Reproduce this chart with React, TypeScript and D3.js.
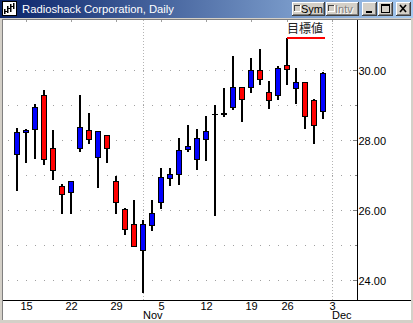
import React from "react";
import * as d3 from "d3";

// ---------- data ----------
const dates = [
  "2001-10-12",
  "2001-10-15", "2001-10-16", "2001-10-17", "2001-10-18", "2001-10-19",
  "2001-10-22", "2001-10-23", "2001-10-24", "2001-10-25", "2001-10-26",
  "2001-10-29", "2001-10-30", "2001-10-31", "2001-11-01", "2001-11-02",
  "2001-11-05", "2001-11-06", "2001-11-07", "2001-11-08", "2001-11-09",
  "2001-11-12", "2001-11-13", "2001-11-14", "2001-11-15", "2001-11-16",
  "2001-11-19", "2001-11-20", "2001-11-21", "2001-11-23",
  "2001-11-26", "2001-11-27", "2001-11-28", "2001-11-29", "2001-11-30",
];
const opens = [
  27.58, 28.21, 28.29, 29.27, 27.75, 26.67, 26.49, 27.75, 28.27, 27.49, 28.12,
  26.81, 26.01, 25.58, 24.83, 25.57, 26.22, 26.91, 27.01, 27.74, 27.45,
  28.01, 28.72, 28.72, 28.94, 29.49, 29.49, 29.98, 29.35, 29.26,
  30.14, 29.46, 29.63, 29.12, 28.82,
];
const highs = [
  28.32, 28.30, 29.01, 29.41, 28.27, 26.73, 26.82, 29.27, 28.76, 28.24, 28.13,
  26.96, 26.04, 26.27, 25.70, 26.27, 27.19, 27.18, 28.05, 28.41, 28.30,
  28.67, 28.99, 29.48, 30.39, 29.50, 30.33, 30.59, 29.67, 30.10,
  30.91, 30.04, 29.64, 29.15, 29.92,
];
const lows = [
  26.54, 27.34, 27.45, 27.28, 26.85, 25.86, 25.88, 27.65, 27.86, 26.62, 27.34,
  25.88, 25.28, 24.94, 23.61, 25.39, 26.01, 26.68, 26.71, 27.63, 27.14,
  27.39, 25.82, 28.65, 28.85, 28.51, 29.34, 29.57, 28.87, 29.13,
  29.57, 29.02, 28.31, 27.88, 28.59,
];
const closes = [
  28.21, 28.27, 28.92, 27.43, 27.12, 26.45, 26.81, 28.35, 28.01, 28.23, 27.75,
  26.21, 25.45, 24.97, 25.58, 25.90, 26.92, 27.01, 27.69, 27.81, 28.03,
  28.24, 28.72, 28.76, 29.50, 29.17, 29.98, 29.72, 29.14, 30.03,
  30.01, 29.63, 28.68, 28.42, 29.90,
];
const futureDays = ["2001-12-03", "2001-12-04", "2001-12-05"];
const yMajorTicks = [24, 26, 28, 30];
const yMinorTicks = [25, 27, 29];
const gridLevels = [24, 25, 26, 27, 28, 29, 30];
const dayTicks = [
  "2001-10-15", "2001-10-22", "2001-10-29", "2001-11-05",
  "2001-11-12", "2001-11-19", "2001-11-26", "2001-12-03",
];
const dayLabels = ["15", "22", "29", "5", "12", "19", "26", "3"];
const monthStarts = ["2001-11-01", "2001-12-03"];
const monthLabels = ["Nov", "Dec"];
const title = "Radioshack Corporation, Daily";
const targetLabel = "目標値";
const targetPrice = 30.91;
const targetFrom = "2001-11-26";
const targetTo = "2001-11-30";

// ---------- layout ----------
const W = 413;
const H = 323;
const plotLeft = 3;
const plotRight = 411;
const plotTop = 20;
const axisY = 300;
const axisX = 357;
const FONT = "'Liberation Sans', Arial, sans-serif";

const allDays = dates.concat(futureDays);
const idx = (d: string) => allDays.indexOf(d);

const x = d3.scaleLinear().domain([0, dates.length - 1]).range([17, 323]);
const y = d3.scaleLinear().domain([24, 30]).range([279.5, 69.5]);

const UP = "#0000ff";
const DOWN = "#ff0000";

function Button3D({ bx, by, bw, bh }: { bx: number; by: number; bw: number; bh: number }) {
  return (
    <g>
      <rect x={bx} y={by} width={bw} height={bh} fill="#d4d0c8" />
      <rect x={bx} y={by} width={bw} height={1} fill="#ffffff" />
      <rect x={bx} y={by} width={1} height={bh} fill="#ffffff" />
      <rect x={bx} y={by + bh - 1} width={bw} height={1} fill="#404040" />
      <rect x={bx + bw - 1} y={by} width={1} height={bh} fill="#404040" />
      <rect x={bx + 1} y={by + bh - 2} width={bw - 2} height={1} fill="#808080" />
      <rect x={bx + bw - 2} y={by + 1} width={1} height={bh - 2} fill="#808080" />
    </g>
  );
}

function CheckBox({ cx, cy }: { cx: number; cy: number }) {
  return (
    <g>
      <rect x={cx} y={cy} width={7} height={7} fill="#d4d0c8" />
      <rect x={cx} y={cy} width={7} height={1} fill="#404040" />
      <rect x={cx} y={cy} width={1} height={7} fill="#404040" />
      <rect x={cx} y={cy + 6} width={7} height={1} fill="#ffffff" />
      <rect x={cx + 6} y={cy} width={1} height={7} fill="#ffffff" />
    </g>
  );
}

export default function App() {
  const gridXs = d3.range(-1, 38).map((i) => Math.round(x(i))).filter((v) => v > plotLeft && v < axisX - 3);

  return (
    <svg
      width={W}
      height={H}
      viewBox={`0 0 ${W} ${H}`}
      style={{ position: "absolute", left: 0, top: 0, display: "block" }}
      fontFamily={FONT}
    >
      <defs>
        <linearGradient id="tb" x1="0" x2="1" y1="0" y2="0">
          <stop offset="0%" stopColor="#0a246a" />
          <stop offset="100%" stopColor="#a6caf0" />
        </linearGradient>
      </defs>

      {/* window frame */}
      <rect x={0} y={0} width={W} height={H} fill="#d4d0c8" />
      <rect x={0} y={0} width={W} height={18} fill="url(#tb)" />
      <rect x={2} y={19} width={plotRight - 2} height={1} fill="#808080" />
      <rect x={2} y={19} width={1} height={301} fill="#808080" />
      <rect x={plotLeft} y={plotTop} width={plotRight - plotLeft} height={320 - plotTop} fill="#ffffff" />

      {/* icon */}
      <rect x={2.5} y={1.5} width={14} height={14} fill="#ffffff" stroke="#000" />
      <rect x={4} y={9} width={1.5} height={5} fill="#000" />
      <rect x={7} y={6} width={1.5} height={7} fill="#000" />
      <rect x={10} y={4} width={1.5} height={8} fill="#000" />
      <rect x={13} y={3} width={1.5} height={6} fill="#000" />
      <rect x={5} y={11} width={2} height={1} fill="#000" />
      <rect x={8} y={8} width={2} height={1} fill="#000" />
      <rect x={11} y={6} width={2} height={1} fill="#000" />

      {/* title */}
      <text x={22} y={13} fill="#ffffff" fontSize={11.3} textLength={152} lengthAdjust="spacingAndGlyphs">
        {title}
      </text>

      {/* buttons */}
      <Button3D bx={292} by={2} bw={33} bh={14} />
      <CheckBox cx={294} cy={5} />
      <text x={301} y={13} fontSize={11} fill="#000">Sym</text>
      <Button3D bx={326} by={2} bw={33} bh={14} />
      <CheckBox cx={328} cy={5} />
      <text x={336} y={14} fontSize={11} fill="#ffffff">Intv</text>
      <text x={335} y={13} fontSize={11} fill="#808080">Intv</text>
      <Button3D bx={362} by={2} bw={15} bh={14} />
      <rect x={366} y={11} width={6} height={2} fill="#000" />
      <Button3D bx={378} by={2} bw={15} bh={14} />
      <rect x={381.5} y={4.5} width={8} height={8} fill="none" stroke="#000" />
      <rect x={381} y={5} width={9} height={1} fill="#000" />
      <Button3D bx={396} by={2} bw={15} bh={14} />
      <line x1={400} y1={5} x2={406} y2={12} stroke="#000" strokeWidth={1.6} />
      <line x1={406} y1={5} x2={400} y2={12} stroke="#000" strokeWidth={1.6} />

      {/* horizontal dot grid */}
      {gridLevels.map((lv) =>
        gridXs.map((gx) => (
          <rect key={`g${lv}-${gx}`} x={gx} y={Math.round(y(lv))} width={1} height={1} fill="#a0a0a0" />
        ))
      )}

      {/* month gridlines */}
      {monthStarts.map((m) => (
        <line
          key={m}
          x1={Math.round(x(idx(m))) + 0.5}
          x2={Math.round(x(idx(m))) + 0.5}
          y1={plotTop}
          y2={axisY}
          stroke="#b4b4b4"
          strokeDasharray="1,2"
        />
      ))}

      {/* weekly top marks */}
      {dayTicks.map((d) => (
        <rect key={`w${d}`} x={Math.round(x(idx(d)))} y={plotTop} width={1} height={2} fill="#a0a0a0" />
      ))}

      {/* candles */}
      {dates.map((d, i) => {
        const c = Math.round(x(i));
        const o = opens[i];
        const cl = closes[i];
        const hi = Math.round(y(highs[i]));
        const lo = Math.round(y(lows[i]));
        const top = Math.round(y(Math.max(o, cl)));
        const bot = Math.round(y(Math.min(o, cl)));
        const color = cl >= o ? UP : DOWN;
        return (
          <g key={d}>
            <rect x={c - 1} y={hi} width={2} height={Math.max(lo - hi, 1)} fill="#000" />
            {bot - top >= 1 ? (
              <rect x={c - 2.5} y={top + 0.5} width={5} height={bot - top} fill={color} stroke="#000" strokeWidth={1} />
            ) : (
              <rect x={c - 3} y={top} width={6} height={1} fill="#000" />
            )}
          </g>
        );
      })}

      {/* target line */}
      <rect
        x={Math.round(x(idx(targetFrom)))}
        y={Math.round(y(targetPrice)) - 1}
        width={Math.round(x(idx(targetTo))) + 2 - Math.round(x(idx(targetFrom)))}
        height={2}
        fill="#ff0000"
      />
      <text
        x={Math.round(x(idx(targetFrom)))}
        y={33}
        fontSize={12}
        fill="#222"
        fontFamily="'Noto Sans CJK JP', 'Noto Sans CJK SC', sans-serif"
      >
        {targetLabel}
      </text>

      {/* axes */}
      <rect x={axisX} y={plotTop} width={1} height={axisY - plotTop} fill="#000" />
      <rect x={plotLeft} y={axisY} width={plotRight - plotLeft} height={1} fill="#000" />

      {yMajorTicks.map((t) => (
        <g key={`ym${t}`}>
          <rect x={axisX - 4} y={Math.round(y(t))} width={4} height={1} fill="#808080" />
          <text x={axisX + 1.5} y={Math.round(y(t)) + 4.5} fontSize={11} fill="#000">
            {t.toFixed(2)}
          </text>
        </g>
      ))}
      {yMinorTicks.map((t) => (
        <rect key={`yn${t}`} x={axisX - 2} y={Math.round(y(t))} width={2} height={1} fill="#808080" />
      ))}

      {dayTicks.map((d, k) => (
        <text key={`dl${d}`} x={x(idx(d)) + 0.5} y={310} fontSize={11} textAnchor="middle" fill="#000">
          {dayLabels[k]}
        </text>
      ))}
      {monthStarts.map((m, k) => (
        <text key={`ml${m}`} x={Math.round(x(idx(m)))} y={319} fontSize={11} fill="#000">
          {monthLabels[k]}
        </text>
      ))}
    </svg>
  );
}
